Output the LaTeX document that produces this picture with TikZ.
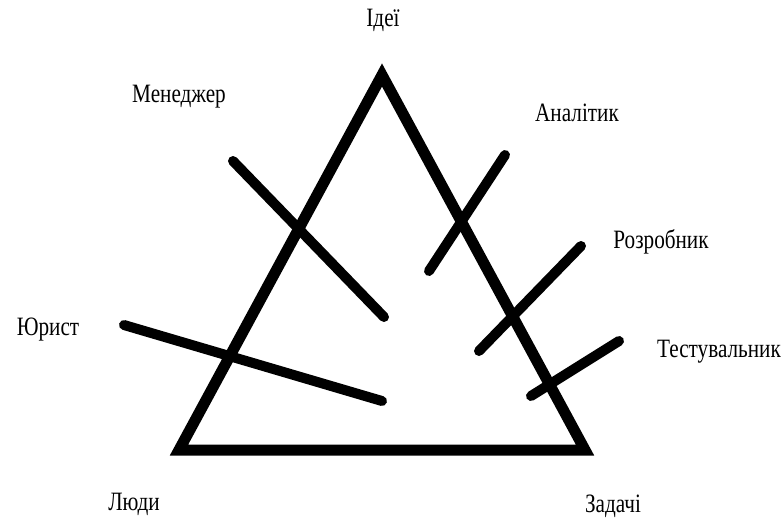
\documentclass[tikz,border=0pt]{standalone}
\usepackage{fontspec}
\setmainfont[FakeStretch=0.8]{Liberation Serif}
\begin{document}
\begin{tikzpicture}[x=1pt,y=-1pt,
  lbl/.style={font=\fontsize{26.5}{30}\selectfont, inner sep=0pt},
  bar/.style={line width=10pt, line cap=round},
  tri/.style={line width=11pt, line join=miter}]
\useasboundingbox (0,0) rectangle (784,522);
\coordinate (A) at (382,75);
\coordinate (B) at (179,450);
\coordinate (C) at (585,450);
\draw[tri] (A) -- (B) -- (C) -- cycle;
\coordinate (m1) at (233,161); \coordinate (m2) at (384,317);
\coordinate (a1) at (505,155); \coordinate (a2) at (429,271);
\coordinate (r1) at (581,246); \coordinate (r2) at (479,351);
\coordinate (t1) at (619,341); \coordinate (t2) at (531,396);
\coordinate (j1) at (124,325); \coordinate (j2) at (382,401);
\draw[bar] (m1) -- (m2);
\draw[bar] (a1) -- (a2);
\draw[bar] (r1) -- (r2);
\draw[bar] (t1) -- (t2);
\draw[bar] (j1) -- (j2);
\node[lbl] (ideas) at (383,20) {Ідеї};
\node[lbl] (man) at (179,97) {Менеджер};
\node[lbl] (an) at (577,113) {Аналітик};
\node[lbl] (dev) at (661,242) {Розробник};
\node[lbl] (law) at (48,330) {Юрист};
\node[lbl] (test) at (719,352) {Тестувальник};
\node[lbl] (people) at (134,504) {Люди};
\node[lbl] (tasks) at (613,506) {Задачі};
\end{tikzpicture}
\end{document}
